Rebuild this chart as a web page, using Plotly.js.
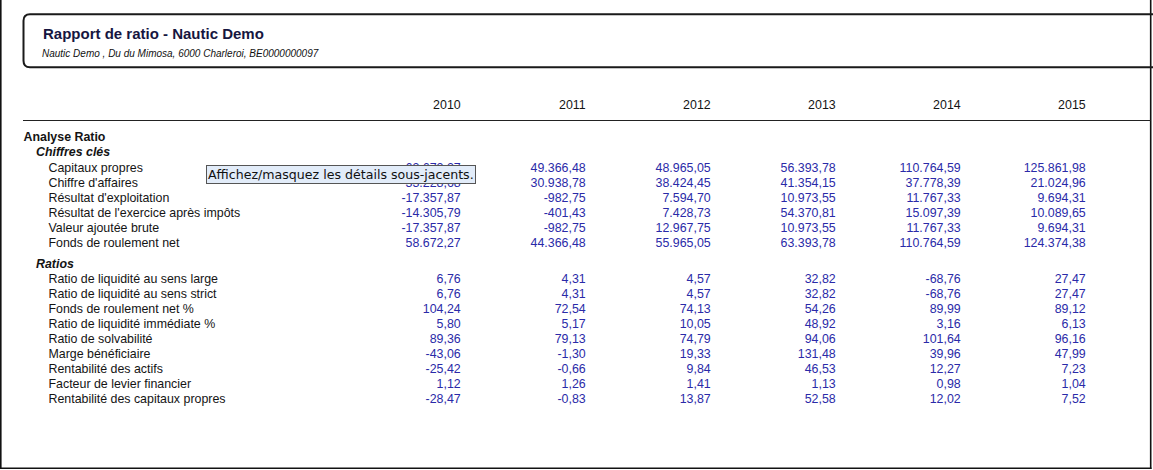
<!DOCTYPE html>
<html>
<head>
<meta charset="utf-8">
<script src="https://cdn.plot.ly/plotly-3.0.1.min.js"></script>
<style>
html,body{margin:0;padding:0;background:#fff;overflow:hidden;}
#chart{width:1153px;height:470px;}
</style>
</head>
<body>
<div id="chart"></div>
<script>
// ---- data ----
const reportTitle = "Rapport de ratio - Nautic Demo";
const reportSubtitle = "Nautic Demo , Du du Mimosa, 6000 Charleroi, BE0000000097";
const sectionTitle = "Analyse Ratio";
const groupKeyFigures = "Chiffres clés";
const groupRatios = "Ratios";
const keyFigureLabels = [
  "Capitaux propres",
  "Chiffre d'affaires",
  "Résultat d'exploitation",
  "Résultat de l'exercice après impôts",
  "Valeur ajoutée brute",
  "Fonds de roulement net"
];
const ratioLabels = [
  "Ratio de liquidité au sens large",
  "Ratio de liquidité au sens strict",
  "Fonds de roulement net %",
  "Ratio de liquidité immédiate %",
  "Ratio de solvabilité",
  "Marge bénéficiaire",
  "Rentabilité des actifs",
  "Facteur de levier financier",
  "Rentabilité des capitaux propres"
];
const years = [2010, 2011, 2012, 2013, 2014, 2015];
const values2010 = [63672.27, 33228.68, -17357.87, -14305.79, -17357.87, 58672.27, 6.76, 6.76, 104.24, 5.80, 89.36, -43.06, -25.42, 1.12, -28.47];
const values2011 = [49366.48, 30938.78, -982.75, -401.43, -982.75, 44366.48, 4.31, 4.31, 72.54, 5.17, 79.13, -1.30, -0.66, 1.26, -0.83];
const values2012 = [48965.05, 38424.45, 7594.70, 7428.73, 12967.75, 55965.05, 4.57, 4.57, 74.13, 10.05, 74.79, 19.33, 9.84, 1.41, 13.87];
const values2013 = [56393.78, 41354.15, 10973.55, 54370.81, 10973.55, 63393.78, 32.82, 32.82, 54.26, 48.92, 94.06, 131.48, 46.53, 1.13, 52.58];
const values2014 = [110764.59, 37778.39, 11767.33, 15097.39, 11767.33, 110764.59, -68.76, -68.76, 89.99, 3.16, 101.64, 39.96, 12.27, 0.98, 12.02];
const values2015 = [125861.98, 21024.96, 9694.31, 10089.65, 9694.31, 124374.38, 27.47, 27.47, 89.12, 6.13, 96.16, 47.99, 7.23, 1.04, 7.52];
const tooltipText = "Affichez/masquez les détails sous-jacents.";

// ---- layout helpers ----
const W = 1153, H = 470;
const colStep = 125, firstColRight = 460.7;
const xMin = years[0] - firstColRight / colStep;
const xMax = xMin + W / colStep;

const ySection = 137.8, yGroup1 = 153.3, yKeyStart = 168.5, yGroup2 = 264.8, yRatioStart = 280.2, rowStep = 15;
const yearHeaderY = 106.4;

function fmt(v) {
  const s = Math.abs(v).toFixed(2);
  let [i, d] = s.split('.');
  i = i.replace(/\B(?=(\d{3})+(?!\d))/g, '.');
  return (v < 0 ? '-' : '') + i + ',' + d;
}

const rowY = [];
keyFigureLabels.forEach((_, i) => rowY.push(yKeyStart + i * rowStep));
ratioLabels.forEach((_, i) => rowY.push(yRatioStart + i * rowStep));

const FONT = "Liberation Sans, Arial, sans-serif";
const BLUE = "#2a2aa8";
const TXT = "#141414";

const allValues = [values2010, values2011, values2012, values2013, values2014, values2015];
const traces = [];

// value columns
years.forEach((yr, k) => {
  traces.push({
    type: 'scatter', mode: 'text',
    x: rowY.map(() => yr), y: rowY,
    text: allValues[k].map(fmt),
    textposition: 'middle left',
    textfont: {family: FONT, size: 12.4, color: BLUE},
    hoverinfo: 'skip', showlegend: false, cliponaxis: false,
    xaxis: 'x', yaxis: 'y'
  });
});

// year headers
traces.push({
  type: 'scatter', mode: 'text',
  x: years, y: years.map(() => yearHeaderY),
  text: years.map(String),
  textposition: 'middle left',
  textfont: {family: FONT, size: 12.4, color: TXT},
  hoverinfo: 'skip', showlegend: false, cliponaxis: false,
  xaxis: 'x', yaxis: 'y'
});

// row labels
const itemLabels = keyFigureLabels.concat(ratioLabels);
traces.push({
  type: 'scatter', mode: 'text',
  x: itemLabels.map(() => 48.5), y: rowY,
  text: itemLabels,
  textposition: 'middle right',
  textfont: {family: FONT, size: 12.4, color: TXT},
  hoverinfo: 'skip', showlegend: false, cliponaxis: false,
  xaxis: 'x2', yaxis: 'y'
});
// section & group headers
traces.push({
  type: 'scatter', mode: 'text',
  x: [23.5], y: [ySection],
  text: ['<b>' + sectionTitle + '</b>'],
  textposition: 'middle right',
  textfont: {family: FONT, size: 12.4, color: TXT},
  hoverinfo: 'skip', showlegend: false, cliponaxis: false,
  xaxis: 'x2', yaxis: 'y'
});
traces.push({
  type: 'scatter', mode: 'text',
  x: [36, 36], y: [yGroup1, yGroup2],
  text: ['<b><i>' + groupKeyFigures + '</i></b>', '<b><i>' + groupRatios + '</i></b>'],
  textposition: 'middle right',
  textfont: {family: FONT, size: 12.4, color: TXT},
  hoverinfo: 'skip', showlegend: false, cliponaxis: false,
  xaxis: 'x2', yaxis: 'y'
});

const layout = {
  width: W, height: H,
  margin: {l: 0, r: 0, t: 0, b: 0},
  paper_bgcolor: '#ffffff', plot_bgcolor: '#ffffff',
  showlegend: false,
  xaxis: {range: [xMin, xMax], visible: false, fixedrange: true},
  xaxis2: {range: [0, W], visible: false, overlaying: 'x', anchor: 'y', fixedrange: true},
  yaxis: {range: [H, 0], visible: false, fixedrange: true},
  shapes: [
    // outer frame
    {type: 'line', xref: 'x2', yref: 'y', x0: 0.8, x1: 0.8, y0: 0, y1: 469, line: {color: '#111', width: 1.6}},
    {type: 'line', xref: 'x2', yref: 'y', x0: 1150.7, x1: 1150.7, y0: 0, y1: 469, line: {color: '#111', width: 1.6}},
    {type: 'line', xref: 'x2', yref: 'y', x0: 0, x1: 1151.5, y0: 468.3, y1: 468.3, line: {color: '#111', width: 1.6}},
    // header box
    {type: 'path', xref: 'x2', yref: 'y',
     path: 'M 30 14.3 L 1175 14.3 L 1175 67.3 L 30 67.3 Q 23.5 67.3 23.5 60.8 L 23.5 20.8 Q 23.5 14.3 30 14.3 Z',
     line: {color: '#1a1a1a', width: 2}, fillcolor: 'rgba(0,0,0,0)'},
    // rule under year headers
    {type: 'line', xref: 'x2', yref: 'y', x0: 23, x1: 1150.7, y0: 120.5, y1: 120.5, line: {color: '#222', width: 1}}
  ],
  annotations: [
    {xref: 'x2', yref: 'y', x: 40.5, y: 33.2, xanchor: 'left', yanchor: 'middle', showarrow: false,
     text: '<b>' + reportTitle + '</b>', font: {family: FONT, size: 15, color: '#16163f'}},
    {xref: 'x2', yref: 'y', x: 39.5, y: 53.4, xanchor: 'left', yanchor: 'middle', showarrow: false,
     text: '<i>' + reportSubtitle + '</i>', font: {family: FONT, size: 10, color: '#111'}},
    {xref: 'x2', yref: 'y', x: 206, y: 174.3, xanchor: 'left', yanchor: 'middle', showarrow: false,
     text: tooltipText, font: {family: 'DejaVu Sans, Verdana, sans-serif', size: 12.6, color: '#111'},
     bgcolor: '#e2ecf9', bordercolor: '#555', borderwidth: 1, borderpad: 1}
  ]
};

Plotly.newPlot('chart', traces, layout, {staticPlot: true, displayModeBar: false});
</script>
</body>
</html>
